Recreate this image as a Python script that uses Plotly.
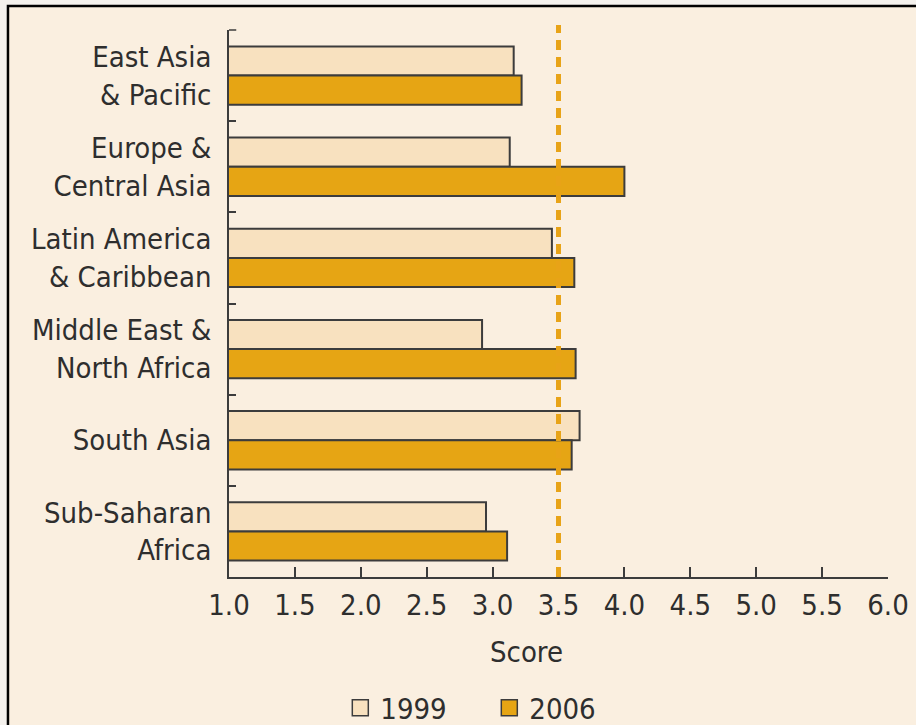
import plotly.graph_objects as go

# Governance scores by region, 1999 vs 2006
regions = [
    "East Asia<br>& Pacific",
    "Europe &<br>Central Asia",
    "Latin America<br>& Caribbean",
    "Middle East &<br>North Africa",
    "South Asia",
    "Sub-Saharan<br>Africa",
]
score_1999 = [3.16, 3.13, 3.45, 2.92, 3.66, 2.95]
score_2006 = [3.22, 4.00, 3.62, 3.63, 3.60, 3.11]
benchmark = 3.5
x_ticks = [1.0, 1.5, 2.0, 2.5, 3.0, 3.5, 4.0, 4.5, 5.0, 5.5, 6.0]

FONT = "DejaVu Sans Condensed, sans-serif"
TEXT = "#2e2e2e"
EDGE = "#3c3c3c"
PANEL = "#faefe0"
C1999 = "#f8e1bf"
C2006 = "#e6a514"

fig = go.Figure()
fig.add_trace(go.Bar(
    y=regions, x=score_1999, name="1999", orientation="h", showlegend=False,
    marker=dict(color=C1999, line=dict(color=EDGE, width=2)),
))
fig.add_trace(go.Bar(
    y=regions, x=score_2006, name="2006", orientation="h", showlegend=False,
    marker=dict(color=C2006, line=dict(color=EDGE, width=2)),
))
# legend keys
for name, color in (("1999", C1999), ("2006", C2006)):
    fig.add_trace(go.Scatter(
        x=[None], y=[None], mode="markers", name=name,
        marker=dict(symbol="square", size=18, color=color,
                    line=dict(color=EDGE, width=1.5)),
    ))

# panel frame
fig.add_shape(type="rect", xref="paper", yref="paper",
              x0=-0.3354, x1=1.2, y0=-0.4, y1=1.0439,
              line=dict(color="#000000", width=2.5), fillcolor=PANEL,
              layer="below")
# top boundary tick of the category axis
fig.add_shape(type="line", xref="paper", yref="paper",
              x0=0, x1=0.011, y0=1, y1=1,
              line=dict(color=EDGE, width=1.5))

# benchmark line
fig.add_shape(type="line", xref="x", yref="paper",
              x0=benchmark, x1=benchmark, y0=0, y1=1.009,
              line=dict(color="#e8a317", width=5, dash="10px,7px"),
              layer="above")

fig.add_annotation(text="Score", xref="paper", yref="paper",
                   x=0.452, y=-0.137, xanchor="center", yanchor="middle",
                   showarrow=False,
                   font=dict(family=FONT, size=29, color=TEXT))

fig.update_layout(
    width=916, height=725,
    margin=dict(l=229, r=28, t=30, b=148, autoexpand=False),
    paper_bgcolor="#f4f1ed",
    plot_bgcolor="rgba(0,0,0,0)",
    barmode="group", bargap=0.36, bargroupgap=0,
    font=dict(family=FONT, size=29, color=TEXT),
    showlegend=True,
    legend=dict(orientation="h", x=0.395, xanchor="center",
                y=-0.2395, yanchor="middle",
                bgcolor="rgba(0,0,0,0)",
                entrywidth=104, entrywidthmode="pixels",
                font=dict(family=FONT, size=29, color=TEXT),
                itemsizing="trace"),
)
fig.update_xaxes(
    range=[1, 6], tickvals=x_ticks, ticktext=[f"{v:.1f}" for v in x_ticks],
    showgrid=False, zeroline=False,
    showline=True, linecolor=EDGE, linewidth=1.5,
    ticks="inside", ticklen=10, tickwidth=1.5, tickcolor=EDGE,
    ticklabelstandoff=1,
)
fig.update_yaxes(
    type="category", categoryorder="array", categoryarray=regions,
    autorange="reversed",
    showgrid=False, zeroline=False,
    showline=True, linecolor=EDGE, linewidth=1.5,
    ticks="inside", tickson="boundaries", ticklen=7, tickwidth=1.5,
    tickcolor=EDGE, ticklabelstandoff=10,
)

fig.write_html("out.html")
